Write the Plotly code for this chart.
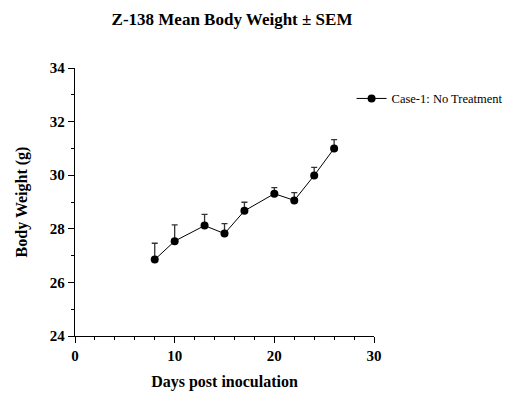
import plotly.graph_objects as go

days = [8, 10, 13, 15, 17, 20, 22, 24, 26]
weight = [26.85, 27.54, 28.12, 27.82, 28.67, 29.31, 29.06, 29.99, 31.0]
sem = [0.61, 0.61, 0.42, 0.37, 0.32, 0.23, 0.29, 0.30, 0.33]
series_name = "Case-1: No Treatment"

FONT = "Liberation Serif, Times New Roman, serif"

fig = go.Figure()
fig.add_trace(go.Scatter(
    x=days, y=weight, name=series_name, mode="lines+markers",
    line=dict(color="black", width=1),
    marker=dict(color="black", size=8, symbol="circle"),
    error_y=dict(type="data", symmetric=False, array=sem,
                 arrayminus=[0] * len(sem), color="#333333",
                 thickness=1.3, width=3),
))

fig.update_layout(
    width=516, height=418,
    margin=dict(l=67, r=150, t=60, b=90),
    plot_bgcolor="white", paper_bgcolor="white",
    font=dict(family=FONT, color="black"),
    title=dict(text="<b>Z-138 Mean Body Weight ± SEM</b>",
               x=(232 - 8) / 516, xanchor="center", y=1 - (19 - 8) / 418, yanchor="middle",
               font=dict(size=17, family=FONT, color="black")),
    showlegend=True,
    legend=dict(x=0.925, y=0.885, xanchor="left", yanchor="middle",
                font=dict(size=12.5, family=FONT, color="black"),
                bgcolor="rgba(0,0,0,0)"),
    xaxis=dict(range=[0, 30], dtick=10, tick0=0,
               showline=True, linecolor="black", linewidth=1.3,
               ticks="outside", ticklen=6, tickwidth=1.3, tickcolor="black",
               minor=dict(dtick=2, ticks="outside", ticklen=3, tickwidth=1, tickcolor="black"),
               showgrid=False, zeroline=False,
               tickfont=dict(size=15, family=FONT, color="black"),
               tickprefix="<b>", ticksuffix="</b>",
               title=dict(text="<b>Days post inoculation</b>", standoff=12,
                          font=dict(size=16, family=FONT, color="black"))),
    yaxis=dict(range=[24, 34], dtick=2, tick0=24,
               showline=True, linecolor="black", linewidth=1.3,
               ticks="outside", ticklen=6, tickwidth=1.3, tickcolor="black",
               minor=dict(dtick=1, ticks="outside", ticklen=3, tickwidth=1, tickcolor="black"),
               showgrid=False, zeroline=False,
               tickfont=dict(size=15, family=FONT, color="black"),
               tickprefix="<b>", ticksuffix="</b>",
               title=dict(text="<b>Body Weight (g)</b>", standoff=18,
                          font=dict(size=16, family=FONT, color="black"))),
)

fig.write_html("out.html")
